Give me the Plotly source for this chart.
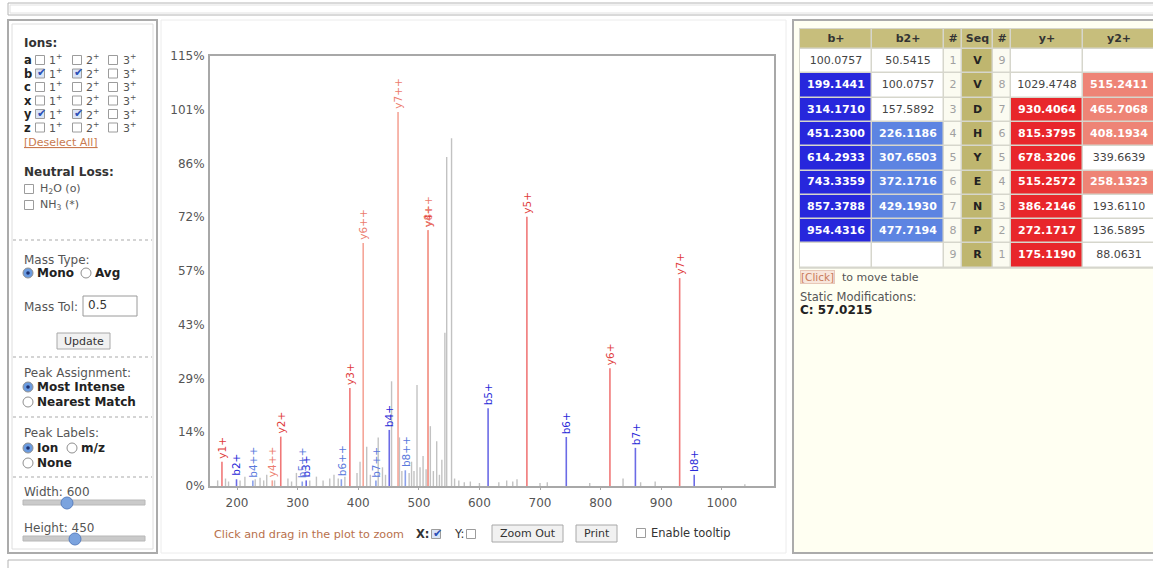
import plotly.graph_objects as go

W, H = 1153, 568
FONT = "DejaVu Sans"

# ---------------- data ----------------
seq = ["V", "V", "D", "H", "Y", "E", "N", "P", "R"]
n_pos = [1, 2, 3, 4, 5, 6, 7, 8, 9]
c_pos = [9, 8, 7, 6, 5, 4, 3, 2, 1]
b1_mz = [100.0757, 199.1441, 314.1710, 451.2300, 614.2933, 743.3359, 857.3788, 954.4316, None]
b2_mz = [50.5415, 100.0757, 157.5892, 226.1186, 307.6503, 372.1716, 429.1930, 477.7194, None]
y1_mz = [None, 1029.4748, 930.4064, 815.3795, 678.3206, 515.2572, 386.2146, 272.1717, 175.1190]
y2_mz = [None, 515.2411, 465.7068, 408.1934, 339.6639, 258.1323, 193.6110, 136.5895, 88.0631]
# matched peak intensity (% of base peak); None = not matched
b1_int = [None, 1.8, 1.5, 15.0, 20.8, 13.1, 10.2, 3.0, None]
b2_int = [None, None, None, 1.5, 1.2, 1.8, 1.5, 4.2, None]
y1_int = [None, None, 55.6, 31.5, 72.0, 68.4, 26.2, 13.2, 6.5]
y2_int = [None, 68.4, 100.0, 65.0, None, 1.5, None, None, None]

# unassigned peaks
noise_mz = [168, 181, 186, 205, 213, 230, 238, 244, 249, 262, 284, 290, 298, 320, 331, 342,
            353, 360, 367, 378, 398, 403, 414, 420, 433, 440, 445, 455, 468, 472, 484, 488,
            492, 497, 502, 507, 512, 519, 524, 529.5, 534, 538, 543, 546, 554, 559, 566, 575,
            585, 600, 632, 645, 655, 662, 700, 712, 782, 837, 866, 890, 1038]
noise_int = [1.5, 2.0, 1.2, 1.5, 2.5, 1.8, 2.2, 1.5, 3.0, 1.5, 2.0, 1.2, 3.5, 1.5, 2.5, 1.5,
             2.0, 3.0, 2.0, 2.5, 3.5, 6.5, 10.5, 3.0, 13.0, 5.0, 3.0, 28.0, 13.0, 4.0, 3.5, 6.5,
             4.0, 27.0, 5.0, 8.0, 4.5, 16.0, 4.0, 12.0, 3.0, 7.0, 41.0, 88.0, 93.0, 2.0, 1.5, 1.0,
             1.2, 0.8, 1.0, 1.5, 1.2, 1.8, 0.8, 1.0, 0.8, 2.0, 1.0, 1.2, 0.5]

x_ticks = [200, 300, 400, 500, 600, 700, 800, 900, 1000]
y_ticks = [0, 14.375, 28.75, 43.125, 57.5, 71.875, 86.25, 100.625, 115]
y_tick_text = ["0%", "14%", "29%", "43%", "57%", "72%", "86%", "101%", "115%"]
x_range = [155.4, 1086.1]
y_range = [0, 115]

table_header = ["b+", "b2+", "#", "Seq", "#", "y+", "y2+"]

# ---------------- styling ----------------
series = [
    dict(mz=b1_mz, inten=b1_int, ion="b", sfx="+", idx=n_pos, line="#6b6be6", lab="#2a2ad8", code=1),
    dict(mz=b2_mz, inten=b2_int, ion="b", sfx="++", idx=n_pos, line="#8aa0ea", lab="#5a78dc", code=2),
    dict(mz=y1_mz, inten=y1_int, ion="y", sfx="+", idx=c_pos, line="#f07878", lab="#e03c3c", code=3),
    dict(mz=y2_mz, inten=y2_int, ion="y", sfx="++", idx=c_pos, line="#f5a598", lab="#ec7c6e", code=4),
]
cell_colors = ["#ffffff", "#2727dc", "#5d84e2", "#e8262b", "#ee8476", "#c7be7c", "#bfb66f", "#fbfbf1"]

fig = go.Figure()


def stems(mz, inten):
    xs, ys = [], []
    for m, h in zip(mz, inten):
        if m is None or h is None:
            continue
        xs += [m, m, None]
        ys += [0, h, None]
    return xs, ys


nx, ny = stems(noise_mz, noise_int)
fig.add_trace(go.Scatter(x=nx, y=ny, mode="lines", line=dict(color="#c2c2c2", width=1.4),
                         hoverinfo="skip", showlegend=False))
annotations = []
for s in series:
    xs, ys = stems(s["mz"], s["inten"])
    fig.add_trace(go.Scatter(x=xs, y=ys, mode="lines", line=dict(color=s["line"], width=1.6),
                             hoverinfo="skip", showlegend=False))
    for m, h, k in zip(s["mz"], s["inten"], s["idx"]):
        if m is None or h is None:
            continue
        annotations.append(dict(x=m, y=h, xref="x", yref="y", text=f"{s['ion']}{k}{s['sfx']}",
                                textangle=-90, showarrow=False, xanchor="center", yanchor="bottom",
                                yshift=1, font=dict(family=FONT, size=10.5, color=s["lab"])))

# ---------------- fragment table (heatmap cells + text) ----------------
col_w = [72, 72, 18, 31, 18, 72, 72]
hdr_h, row_h = 20, 24.3
x_edges = [0]
for w in col_w:
    x_edges.append(x_edges[-1] + w)
y_edges = [0, hdr_h] + [hdr_h + row_h * (k + 1) for k in range(len(seq))]
tbl_h = y_edges[-1]


def fmt(m):
    return "" if m is None else f"{m:.4f}"


ion_cols = {0: series[0], 1: series[1], 5: series[2], 6: series[3]}
z = [[5] * 7]
txt, tx, ty, tcol = [], [], [], []
for ci, h in enumerate(table_header):
    txt.append(f"<b>{h}</b>"); tx.append((x_edges[ci] + x_edges[ci + 1]) / 2); ty.append(hdr_h / 2)
    tcol.append("#333333")
for r in range(len(seq)):
    row = []
    yc = (y_edges[r + 1] + y_edges[r + 2]) / 2
    for ci in range(7):
        xc = (x_edges[ci] + x_edges[ci + 1]) / 2
        if ci in ion_cols:
            s = ion_cols[ci]
            m, h = s["mz"][r], s["inten"][r]
            if m is not None and h is not None:
                row.append(s["code"]); txt.append(f"<b>{fmt(m)}</b>"); tcol.append("white")
            else:
                row.append(0); txt.append(fmt(m)); tcol.append("#444444")
        elif ci == 3:
            row.append(6); txt.append(f"<b>{seq[r]}</b>"); tcol.append("#222222")
        else:
            row.append(7); txt.append(str(n_pos[r] if ci == 2 else c_pos[r])); tcol.append("#a0a0a0")
        tx.append(xc); ty.append(yc)
    z.append(row)

ncat = len(cell_colors)
cscale = []
for i, c in enumerate(cell_colors):
    cscale += [[i / ncat, c], [(i + 1) / ncat, c]]

fig.add_trace(go.Heatmap(z=z, x=x_edges, y=y_edges, xaxis="x2", yaxis="y2", colorscale=cscale,
                         zmin=-0.5, zmax=ncat - 0.5, showscale=False, xgap=1.5, ygap=1.5,
                         hoverinfo="skip"))
fig.add_trace(go.Scatter(x=tx, y=ty, text=txt, mode="text", xaxis="x2", yaxis="y2",
                         textfont=dict(family=FONT, size=11, color=tcol), hoverinfo="skip",
                         showlegend=False))

# ---------------- page chrome ----------------
shapes = []


def R(x0, y0, x1, y1, line="#aaaaaa", lw=1, fill=None, dash=None, kind="rect", layer="above"):
    d = dict(type=kind, xref="paper", yref="paper", x0=x0 / W, x1=x1 / W, y0=1 - y0 / H, y1=1 - y1 / H,
             layer=layer, line=dict(color=line, width=lw) if line else dict(width=0))
    if fill:
        d["fillcolor"] = fill
    if dash and line:
        d["line"]["dash"] = dash
    shapes.append(d)


def L(x0, y0, x1, y1, color="#cccccc", lw=1, dash=None):
    d = dict(type="line", xref="paper", yref="paper", x0=x0 / W, x1=x1 / W, y0=1 - y0 / H, y1=1 - y1 / H,
             line=dict(color=color, width=lw))
    if dash:
        d["line"]["dash"] = dash
    shapes.append(d)


def T(x, y, s, size=12, color="#444444", bold=False, xa="left", ya="middle", **kw):
    if bold:
        s = f"<b>{s}</b>"
    annotations.append(dict(xref="paper", yref="paper", x=x / W, y=1 - y / H, text=s, showarrow=False,
                            xanchor=xa, yanchor=ya, font=dict(family=FONT, size=size, color=color), **kw))


def checkbox(cx, cy, checked=False, s=9):
    R(cx - s / 2, cy - s / 2, cx + s / 2, cy + s / 2, line="#9c9c9c", fill="#d9e4f6" if checked else "white")
    if checked:
        T(cx + 1, cy - 1, "✔", size=11, color="#2a50b8", xa="center")


def radio(cx, cy, sel=False, r=5):
    R(cx - r, cy - r, cx + r, cy + r, line="#8f8f8f", fill="#6a9be0" if sel else "white", kind="circle")
    if sel:
        R(cx - 1.8, cy - 1.8, cx + 1.8, cy + 1.8, line=None, fill="#1c2f6e", kind="circle")


def button(x0, y0, x1, y1, label):
    R(x0, y0, x1, y1, line="#a8a8a8", fill="#f1f1f1")
    T((x0 + x1) / 2, (y0 + y1) / 2, label, size=11, color="#333333", xa="center")


# top and bottom bars
R(8, 3, 1165, 15, line="#b4b4b4", lw=1, fill="white", layer="below")
R(10, 5, 1165, 13, line="#e2e2e2", lw=1, layer="below")
R(8, 560, 1165, 580, line="#b4b4b4", lw=1, fill="white", layer="below")

# middle faint frame
R(161, 20, 786, 553, line="#ececec", lw=1, layer="below")

# left panel
R(8, 20, 157, 553, line="#ababab", lw=2, fill="white", layer="below")
R(12, 24, 153, 549, line="#dedede", lw=1, layer="below")
for yy in [240, 357, 417, 477]:
    L(13, yy, 152, yy, color="#d4d4d4", lw=2, dash="dot")

T(22, 43, "Ions:", bold=True, color="#333333")
ion_letters = ["a", "b", "c", "x", "y", "z"]
ion_checked = {("b", 1), ("b", 2), ("y", 1), ("y", 2)}
for i, let in enumerate(ion_letters):
    yy = 60 + i * 13.5
    T(22, yy, let, bold=True, color="#222222", size=11.5)
    for j, (cx, lx) in enumerate([(40, 47), (77, 84), (113, 121)]):
        checkbox(cx, yy, (let, j + 1) in ion_checked)
        T(lx, yy, f"{j + 1}<sup>+</sup>", size=11, color="#555555")
T(22, 142, "<u>[Deselect All]</u>", size=11, color="#c97a50")
T(22, 172, "Neutral Loss:", bold=True, color="#333333")
checkbox(29, 189)
T(38, 189, "H<sub>2</sub>O (o)", size=11, color="#555555")
checkbox(29, 205)
T(38, 205, "NH<sub>3</sub> (*)", size=11, color="#555555")

T(22, 260, "Mass Type:", color="#555555")
radio(28, 273, True)
T(35, 273, "Mono", bold=True, color="#222222")
radio(86, 273, False)
T(93, 273, "Avg", bold=True, color="#222222")
T(22, 307, "Mass Tol:", color="#555555")
R(83, 296, 137, 316, line="#9a9a9a", fill="white")
T(86, 305, "0.5", color="#333333")
button(57, 333, 110, 349, "Update")

T(22, 373, "Peak Assignment:", color="#555555")
radio(28, 387, True)
T(35, 387, "Most Intense", bold=True, color="#222222")
radio(28, 402, False)
T(35, 402, "Nearest Match", bold=True, color="#222222")

T(22, 433, "Peak Labels:", color="#555555")
radio(28, 448, True)
T(35, 448, "Ion", bold=True, color="#222222")
radio(72, 448, False)
T(79, 448, "m/z", bold=True, color="#222222")
radio(28, 463, False)
T(35, 463, "None", bold=True, color="#222222")

T(22, 492, "Width: 600", color="#555555")
R(23, 500, 145, 505, line="#b8b8b8", fill="#cacaca")
R(61, 497, 73, 509, line="#5a80c0", fill="#7ba3de", kind="circle")
T(22, 528, "Height: 450", color="#555555")
R(23, 536, 145, 541, line="#b8b8b8", fill="#cacaca")
R(69, 533, 81, 545, line="#5a80c0", fill="#7ba3de", kind="circle")

# controls under chart
T(212, 534, "Click and drag in the plot to zoom", size=11.2, color="#b8704c")
T(414, 534, "X:", bold=True, color="#333333", size=11.5)
checkbox(436, 534, True)
T(452, 534, "Y:", color="#333333", size=11.5)
checkbox(471, 534, False)
button(492, 525, 563, 542, "Zoom Out")
button(576, 525, 617, 542, "Print")
checkbox(641, 533, False)
T(649, 533, "Enable tooltip", size=11.5, color="#333333")

# right panel
R(793, 20, 1165, 553, line="#ababab", lw=2, fill="#fffff2", layer="below")
R(799, 28, 1165, 29 + tbl_h + 1, line=None, fill="#d6d6cc", layer="below")
T(800, 277, "[Click]", size=10.5, color="#c97a5a", bgcolor="#f8e6dc", bordercolor="#e8c8b8", borderwidth=1, borderpad=0)
T(840, 277, "to move table", size=11, color="#555555")
T(798, 297, "Static Modifications:", size=11.5, color="#555555")
T(798, 310, "C: 57.0215", size=12, bold=True, color="#222222")

fig.update_layout(
    width=W, height=H, autosize=False,
    margin=dict(l=0, r=0, t=0, b=0, autoexpand=False),
    paper_bgcolor="white", plot_bgcolor="rgba(0,0,0,0)",
    showlegend=False,
    shapes=shapes, annotations=annotations,
    xaxis=dict(domain=[210 / W, 774 / W], range=x_range, tickvals=x_ticks, showgrid=False, zeroline=False,
               showline=True, mirror=True, linecolor="#a8a8a8", linewidth=2, ticks="outside", ticklen=2,
               tickcolor="#a8a8a8", tickfont=dict(family=FONT, size=12, color="#555555"), ticklabelstandoff=3,
               automargin=False),
    yaxis=dict(domain=[1 - 486 / H, 1 - 56 / H], range=y_range, tickvals=y_ticks, ticktext=y_tick_text,
               showgrid=False, zeroline=False, showline=True, mirror=True, linecolor="#a8a8a8", linewidth=2,
               ticks="", tickfont=dict(family=FONT, size=12, color="#555555"), ticklabelstandoff=1,
               automargin=False),
    xaxis2=dict(domain=[800 / W, 1.0], range=[0, 353], visible=False, anchor="y2", fixedrange=True,
                automargin=False),
    yaxis2=dict(domain=[1 - (29 + tbl_h) / H, 1 - 29 / H], range=[tbl_h, 0], visible=False, anchor="x2",
                fixedrange=True, automargin=False),
    font=dict(family=FONT),
)

fig.write_html("out.html")
